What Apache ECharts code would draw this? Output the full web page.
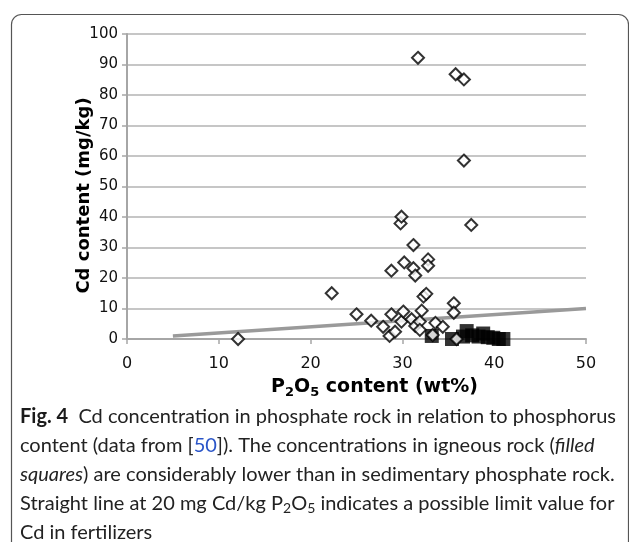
<!DOCTYPE html>
<html>
<head>
<meta charset="utf-8">
<script src="https://cdn.jsdelivr.net/npm/echarts@6/dist/echarts.min.js"></script>
<style>
html,body{margin:0;padding:0;background:#fff;}
#chart{width:629px;height:542px;}
</style>
</head>
<body>
<div id="chart"></div>
<script>
// Sedimentary phosphate rock (open diamonds)
const sedP2O5 = [12.1,22.3,25.0,26.6,27.9,28.6,28.8,28.8,29.2,29.8,29.9,29.9,30.1,30.2,31.0,31.2,31.2,31.4,31.4,31.7,31.9,31.9,32.1,32.3,32.6,32.8,32.8,33.3,33.6,34.4,35.6,35.6,35.8,35.9,36.7,36.7,37.5];
const sedCd   = [0,15.0,8.1,6.0,4.0,1.0,22.4,8.1,2.4,37.9,40.1,5.7,9.0,25.1,6.5,30.8,23.2,20.8,4.3,92.2,5.7,3.0,9.3,13.9,14.8,26.1,24.0,1.3,5.3,4.0,11.7,8.6,86.8,0,85.1,58.5,37.4];
// Igneous phosphate rock (filled squares)
const ignP2O5 = [33.2,35.4,36.6,37.0,37.6,38.3,38.8,39.3,39.9,40.5,41.0];
const ignCd   = [1.0,0.0,0.8,2.6,1.2,0.8,1.8,0.6,0.4,0.0,0.0];
// Limit line: 20 mg Cd/kg P2O5
const limitP2O5 = [5,50];
const limitCd = [1,10];
const xTicks = [0,10,20,30,40,50];
const yTicks = [0,10,20,30,40,50,60,70,80,90,100];

const zip = (a,b)=>a.map((v,i)=>[v,b[i]]);
const chart = echarts.init(document.getElementById('chart'), null, {renderer:'canvas'});
const axisFont = 'DejaVu Sans';
const capFont = 'Lato';
const option = {
  animation:false,
  backgroundColor:'#fff',
  grid:{left:127,right:43,top:34,bottom:203,containLabel:false},
  xAxis:{
    type:'value',min:xTicks[0],max:xTicks[xTicks.length-1],interval:10,
    name:'{b|P}{s|2}{b|O}{s|5}{b| content (wt%)}',
    nameLocation:'middle',nameGap:37,nameMoveOverlap:false,
    nameTextStyle:{fontFamily:axisFont,fontWeight:'bold',fontSize:19,color:'#000',padding:[0,0,0,36],
      rich:{b:{fontFamily:axisFont,fontWeight:'bold',fontSize:19,color:'#000'},
            s:{fontFamily:axisFont,fontWeight:'bold',fontSize:13,color:'#000',padding:[10,0,0,0]}}},
    axisLine:{show:true,onZero:false,lineStyle:{color:'#a6a6a6',width:2}},
    axisTick:{show:true,inside:false,length:5,lineStyle:{color:'#a6a6a6',width:1.5}},
    axisLabel:{fontFamily:axisFont,fontSize:16,color:'#111',margin:17},
    splitLine:{show:false}
  },
  yAxis:{
    type:'value',min:yTicks[0],max:yTicks[yTicks.length-1],interval:10,
    name:'Cd content (mg/kg)',nameLocation:'middle',nameGap:34,nameRotate:90,nameMoveOverlap:false,
    nameTextStyle:{fontFamily:axisFont,fontWeight:'bold',fontSize:18,color:'#000',padding:[0,18,0,0]},
    axisLine:{show:true,lineStyle:{color:'#a6a6a6',width:2}},
    axisTick:{show:true,inside:false,length:5,lineStyle:{color:'#a6a6a6',width:1.5}},
    axisLabel:{fontFamily:axisFont,fontSize:15,color:'#111',margin:9},
    splitLine:{show:true,lineStyle:{color:'#b3b3b3',width:1.5}}
  },
  series:[
    {type:'line',data:zip(limitP2O5,limitCd),symbol:'none',
     lineStyle:{color:'#9a9a9a',width:3.5},z:2},
    {type:'scatter',data:zip(ignP2O5,ignCd),symbol:'rect',symbolSize:14,
     itemStyle:{color:'#000'},z:3},
    {type:'scatter',data:zip(sedP2O5,sedCd),symbol:'diamond',symbolSize:12,
     itemStyle:{color:'#fff',borderColor:'#000',borderWidth:2},z:4}
  ],
  graphic:[
    {type:'rect',left:9,top:12,z:-1,silent:true,
     shape:{x:0,y:0,width:617,height:600,r:10},
     style:{fill:'none',stroke:'#555',lineWidth:1.2}},
    {type:'text',left:20,top:402,silent:true,
     style:{
       text:'{fb|Fig. 4}  Cd concentration in phosphate rock in relation to phosphorus\n'+
            'content (data from [{bl|50}]). The concentrations in igneous rock ({it|filled}\n'+
            '{it|squares}) are considerably lower than in sedimentary phosphate rock.\n'+
            'Straight line at 20 mg Cd/kg P{sub|2}O{sub|5} indicates a possible limit value for\n'+
            'Cd in fertilizers',
       font:'20px '+capFont, fill:'#222', lineHeight:29,
       rich:{
         fb:{fontFamily:capFont,fontWeight:'bold',fontSize:20,fill:'#1a1a1a',lineHeight:29},
         bl:{fontFamily:capFont,fontSize:20,fill:'#2a55c8',lineHeight:29},
         it:{fontFamily:capFont,fontStyle:'italic',fontSize:20,fill:'#222',lineHeight:29},
         sub:{fontFamily:capFont,fontSize:14,fill:'#222',padding:[9,0,0,0]}
       }
     }}
  ]
};
chart.setOption(option);
</script>
</body>
</html>
